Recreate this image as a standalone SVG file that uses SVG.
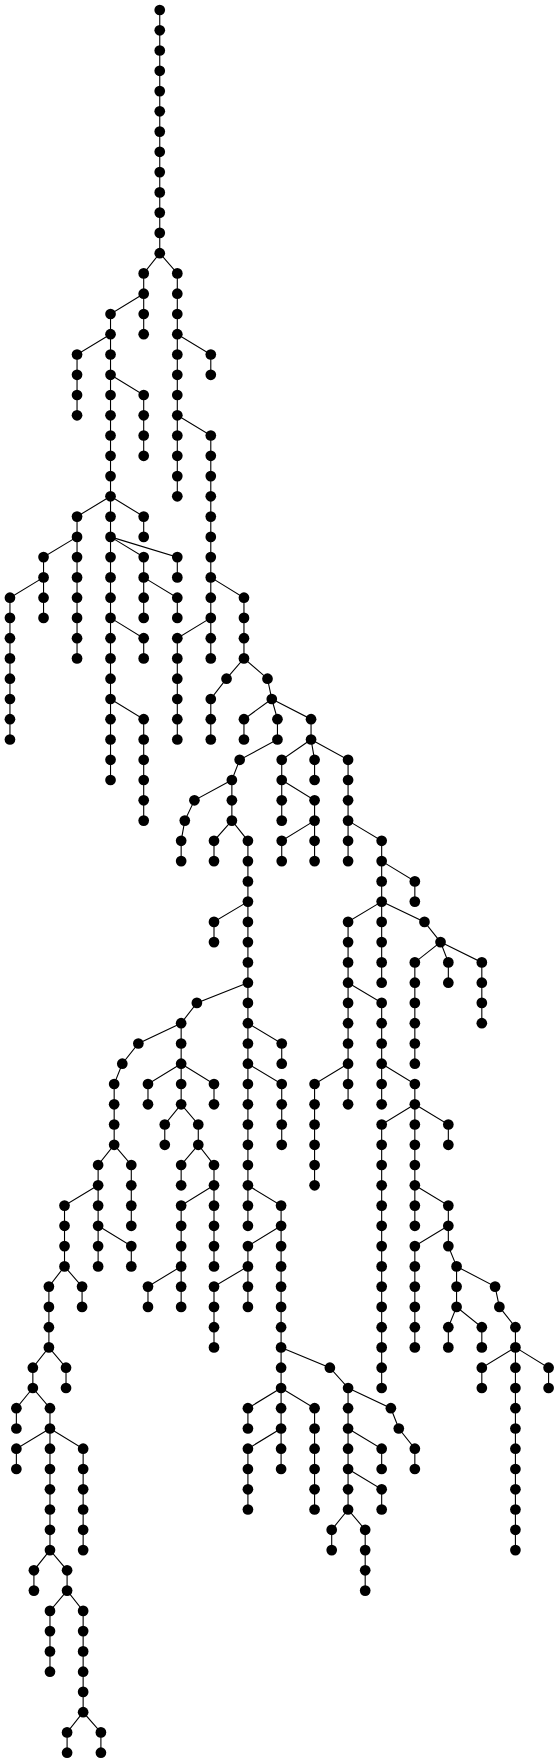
<svg xmlns="http://www.w3.org/2000/svg" xmlns:xlink="http://www.w3.org/1999/xlink" width="558" height="1763" viewBox="0 0 558 1763">
<style>
#edges path{fill:none;stroke:#000;stroke-width:1.1;vector-effect:non-scaling-stroke}
.nodes use{fill:#000}
</style>
<defs><ellipse id="d" cx="0" cy="0" rx="5" ry="5.35"/></defs>
<rect width="558" height="1763" fill="#fff"/>
<g id="edges" transform="matrix(1.07 0 0 1 0 0)">
<path d="M149.3,10V253.2"/>
<path d="M149.3,253.2L134.3,273.4V334.2"/>
<path d="M149.3,253.2L165.7,273.4V496.3"/>
<path d="M134.3,293.7L103.3,314V780"/>
<path d="M103.3,334.2L72,354.5V415.3"/>
<path d="M103.3,374.8L134.3,395V455.8"/>
<path d="M103.3,496.3L72,516.6V658.4"/>
<path d="M72,536.9L40.7,557.1V617.9"/>
<path d="M40.7,577.4L9.3,597.7V739.5"/>
<path d="M103.3,496.3L134.3,516.6V536.9"/>
<path d="M103.3,536.9L134.3,557.1V617.9"/>
<path d="M103.3,536.9L165.7,557.1V577.4"/>
<path d="M134.3,577.4L165.7,597.7V617.9"/>
<path d="M103.3,617.9L134.3,638.2V658.4"/>
<path d="M103.3,699L134.3,719.2V820.6"/>
<path d="M165.7,334.2L197,354.5V374.8"/>
<path d="M165.7,415.3L197,435.5V658.4"/>
<path d="M197,617.9L165.7,638.2V739.5"/>
<path d="M197,577.4L228,597.7V658.4L211.7,678.7L197,699V739.5"/>
<path d="M228,658.4L250,678.7L254,699L259.3,719.2V739.5L224,759.8L216.7,780V820.6L231.7,840.8V1225.8"/>
<path d="M254,699L228,719.2V739.5"/>
<path d="M254,699L290.7,719.2V739.5L294,759.8V780"/>
<path d="M216.7,780L181.7,800.3L172.7,820.6L169.3,840.8V861.1"/>
<path d="M216.7,820.6L200,840.8V861.1"/>
<path d="M231.7,901.6L200,921.9V942.1"/>
<path d="M231.7,982.7L184,1002.9L169.3,1023.2V1104.3L185.3,1124.5V1144.8L200,1165V1266.4"/>
<path d="M169.3,1023.2L129.3,1043.5L114.3,1063.7L106.7,1084V1144.8L91.7,1165V1266.4"/>
<path d="M106.7,1144.8L122.7,1165V1225.8"/>
<path d="M91.7,1225.8L122.7,1246.1V1266.4"/>
<path d="M91.7,1185.3L60.3,1205.6V1266.4L45.7,1286.6V1347.4L30.7,1367.7V1388L46.7,1408.2V1550.1L62.7,1570.3V1590.6L77.7,1610.9V1712.2L94.3,1732.4V1752.7"/>
<path d="M60.3,1266.4L76.7,1286.6V1306.9"/>
<path d="M45.7,1347.4L61.7,1367.7V1388"/>
<path d="M30.7,1388L15.3,1408.2V1428.5"/>
<path d="M46.7,1428.5L15.3,1448.7V1469"/>
<path d="M46.7,1428.5L77.7,1448.7V1550.1"/>
<path d="M46.7,1550.1L31.7,1570.3V1590.6"/>
<path d="M62.7,1590.6L46.7,1610.9V1671.7"/>
<path d="M77.7,1712.2L62.7,1732.4V1752.7"/>
<path d="M169.3,1063.7L138.3,1084V1104.3"/>
<path d="M169.3,1063.7L200,1084V1104.3"/>
<path d="M169.3,1104.3L154,1124.5V1144.8"/>
<path d="M185.3,1144.8L169.3,1165V1185.3"/>
<path d="M200,1185.3L169.3,1205.6V1306.9"/>
<path d="M169.3,1266.4L138.3,1286.6V1306.9"/>
<path d="M231.7,1023.2L263.3,1043.5V1063.7"/>
<path d="M231.7,1063.7L263.3,1084V1144.8"/>
<path d="M231.7,1185.3L262.7,1205.6V1469"/>
<path d="M262.7,1225.8L231.7,1246.1V1306.9"/>
<path d="M231.7,1266.4L200,1286.6V1347.4"/>
<path d="M262.7,1347.4L308.3,1367.7L325.3,1388V1509.5L341.3,1529.8V1590.6"/>
<path d="M262.7,1388L231.7,1408.2V1428.5"/>
<path d="M262.7,1388L294,1408.2V1509.5"/>
<path d="M262.7,1428.5L231.7,1448.7V1509.5"/>
<path d="M325.3,1388L365.3,1408.2L372.7,1428.5L387.7,1448.7V1469"/>
<path d="M325.3,1428.5L356.7,1448.7V1469"/>
<path d="M325.3,1469L356.7,1489.3V1509.5"/>
<path d="M325.3,1509.5L310,1529.8V1550.1"/>
<path d="M290.7,739.5L263.3,759.8V820.6"/>
<path d="M263.3,780L294,800.3V861.1"/>
<path d="M294,820.6L263.3,840.8V861.1"/>
<path d="M290.7,739.5L325.3,759.8V861.1"/>
<path d="M325.3,820.6L356.7,840.8V982.7"/>
<path d="M356.7,861.1L387.7,881.4V901.6"/>
<path d="M356.7,901.6L325.3,921.9V1104.3"/>
<path d="M325.3,982.7L356.7,1002.9V1104.3"/>
<path d="M325.3,1063.7L294,1084V1185.3"/>
<path d="M356.7,1063.7L387.7,1084V1225.8"/>
<path d="M387.7,1104.3L356.7,1124.5V1388"/>
<path d="M387.7,1104.3L419,1124.5V1144.8"/>
<path d="M387.7,1185.3L419,1205.6V1246.1L426.7,1266.4V1306.9L450.3,1327.2V1347.4"/>
<path d="M419,1225.8L387.7,1246.1V1347.4"/>
<path d="M426.7,1266.4L462.7,1286.6L466.7,1306.9L481.7,1327.2V1550.1"/>
<path d="M426.7,1306.9L419,1327.2V1347.4"/>
<path d="M481.7,1347.4L450.3,1367.7V1388"/>
<path d="M481.7,1347.4L512.7,1367.7V1388"/>
<path d="M356.7,901.6L396.7,921.9L411.7,942.1L419,962.4V982.7"/>
<path d="M411.7,942.1L387.7,962.4V1063.7"/>
<path d="M411.7,942.1L450.3,962.4V1023.2"/>
</g>
<g class="nodes" transform="matrix(1.07 0 0 1 0 0)">
<g id="n1"><use href="#d" x="149.3" y="10"/></g>
<g id="n2"><use href="#d" x="149.3" y="30.3"/></g>
<g id="n3"><use href="#d" x="149.3" y="50.5"/></g>
<g id="n4"><use href="#d" x="149.3" y="70.8"/></g>
<g id="n5"><use href="#d" x="149.3" y="91.1"/></g>
<g id="n6"><use href="#d" x="149.3" y="111.3"/></g>
<g id="n7"><use href="#d" x="149.3" y="131.6"/></g>
<g id="n8"><use href="#d" x="149.3" y="151.8"/></g>
<g id="n9"><use href="#d" x="149.3" y="172.1"/></g>
<g id="n10"><use href="#d" x="149.3" y="192.4"/></g>
<g id="n11"><use href="#d" x="149.3" y="212.6"/></g>
<g id="n12"><use href="#d" x="149.3" y="232.9"/></g>
<g id="n13"><use href="#d" x="149.3" y="253.2"/></g>
<g id="n14"><use href="#d" x="134.3" y="273.4"/></g>
<g id="n15"><use href="#d" x="134.3" y="293.7"/></g>
<g id="n16"><use href="#d" x="134.3" y="314"/></g>
<g id="n17"><use href="#d" x="134.3" y="334.2"/></g>
<g id="n18"><use href="#d" x="165.7" y="273.4"/></g>
<g id="n19"><use href="#d" x="165.7" y="293.7"/></g>
<g id="n20"><use href="#d" x="165.7" y="314"/></g>
<g id="n21"><use href="#d" x="165.7" y="334.2"/></g>
<g id="n22"><use href="#d" x="165.7" y="354.5"/></g>
<g id="n23"><use href="#d" x="165.7" y="374.8"/></g>
<g id="n24"><use href="#d" x="165.7" y="395"/></g>
<g id="n25"><use href="#d" x="165.7" y="415.3"/></g>
<g id="n26"><use href="#d" x="165.7" y="435.5"/></g>
<g id="n27"><use href="#d" x="165.7" y="455.8"/></g>
<g id="n28"><use href="#d" x="165.7" y="476.1"/></g>
<g id="n29"><use href="#d" x="165.7" y="496.3"/></g>
<g id="n30"><use href="#d" x="103.3" y="314"/></g>
<g id="n31"><use href="#d" x="103.3" y="334.2"/></g>
<g id="n32"><use href="#d" x="103.3" y="354.5"/></g>
<g id="n33"><use href="#d" x="103.3" y="374.8"/></g>
<g id="n34"><use href="#d" x="103.3" y="395"/></g>
<g id="n35"><use href="#d" x="103.3" y="415.3"/></g>
<g id="n36"><use href="#d" x="103.3" y="435.5"/></g>
<g id="n37"><use href="#d" x="103.3" y="455.8"/></g>
<g id="n38"><use href="#d" x="103.3" y="476.1"/></g>
<g id="n39"><use href="#d" x="103.3" y="496.3"/></g>
<g id="n40"><use href="#d" x="103.3" y="516.6"/></g>
<g id="n41"><use href="#d" x="103.3" y="536.9"/></g>
<g id="n42"><use href="#d" x="103.3" y="557.1"/></g>
<g id="n43"><use href="#d" x="103.3" y="577.4"/></g>
<g id="n44"><use href="#d" x="103.3" y="597.7"/></g>
<g id="n45"><use href="#d" x="103.3" y="617.9"/></g>
<g id="n46"><use href="#d" x="103.3" y="638.2"/></g>
<g id="n47"><use href="#d" x="103.3" y="658.4"/></g>
<g id="n48"><use href="#d" x="103.3" y="678.7"/></g>
<g id="n49"><use href="#d" x="103.3" y="699"/></g>
<g id="n50"><use href="#d" x="103.3" y="719.2"/></g>
<g id="n51"><use href="#d" x="103.3" y="739.5"/></g>
<g id="n52"><use href="#d" x="103.3" y="759.8"/></g>
<g id="n53"><use href="#d" x="103.3" y="780"/></g>
<g id="n54"><use href="#d" x="72" y="354.5"/></g>
<g id="n55"><use href="#d" x="72" y="374.8"/></g>
<g id="n56"><use href="#d" x="72" y="395"/></g>
<g id="n57"><use href="#d" x="72" y="415.3"/></g>
<g id="n58"><use href="#d" x="134.3" y="395"/></g>
<g id="n59"><use href="#d" x="134.3" y="415.3"/></g>
<g id="n60"><use href="#d" x="134.3" y="435.5"/></g>
<g id="n61"><use href="#d" x="134.3" y="455.8"/></g>
<g id="n62"><use href="#d" x="72" y="516.6"/></g>
<g id="n63"><use href="#d" x="72" y="536.9"/></g>
<g id="n64"><use href="#d" x="72" y="557.1"/></g>
<g id="n65"><use href="#d" x="72" y="577.4"/></g>
<g id="n66"><use href="#d" x="72" y="597.7"/></g>
<g id="n67"><use href="#d" x="72" y="617.9"/></g>
<g id="n68"><use href="#d" x="72" y="638.2"/></g>
<g id="n69"><use href="#d" x="72" y="658.4"/></g>
<g id="n70"><use href="#d" x="40.7" y="557.1"/></g>
<g id="n71"><use href="#d" x="40.7" y="577.4"/></g>
<g id="n72"><use href="#d" x="40.7" y="597.7"/></g>
<g id="n73"><use href="#d" x="40.7" y="617.9"/></g>
<g id="n74"><use href="#d" x="9.3" y="597.7"/></g>
<g id="n75"><use href="#d" x="9.3" y="617.9"/></g>
<g id="n76"><use href="#d" x="9.3" y="638.2"/></g>
<g id="n77"><use href="#d" x="9.3" y="658.4"/></g>
<g id="n78"><use href="#d" x="9.3" y="678.7"/></g>
<g id="n79"><use href="#d" x="9.3" y="699"/></g>
<g id="n80"><use href="#d" x="9.3" y="719.2"/></g>
<g id="n81"><use href="#d" x="9.3" y="739.5"/></g>
<g id="n82"><use href="#d" x="134.3" y="516.6"/></g>
<g id="n83"><use href="#d" x="134.3" y="536.9"/></g>
<g id="n84"><use href="#d" x="134.3" y="557.1"/></g>
<g id="n85"><use href="#d" x="134.3" y="577.4"/></g>
<g id="n86"><use href="#d" x="134.3" y="597.7"/></g>
<g id="n87"><use href="#d" x="134.3" y="617.9"/></g>
<g id="n88"><use href="#d" x="165.7" y="557.1"/></g>
<g id="n89"><use href="#d" x="165.7" y="577.4"/></g>
<g id="n90"><use href="#d" x="165.7" y="597.7"/></g>
<g id="n91"><use href="#d" x="165.7" y="617.9"/></g>
<g id="n92"><use href="#d" x="134.3" y="638.2"/></g>
<g id="n93"><use href="#d" x="134.3" y="658.4"/></g>
<g id="n94"><use href="#d" x="134.3" y="719.2"/></g>
<g id="n95"><use href="#d" x="134.3" y="739.5"/></g>
<g id="n96"><use href="#d" x="134.3" y="759.8"/></g>
<g id="n97"><use href="#d" x="134.3" y="780"/></g>
<g id="n98"><use href="#d" x="134.3" y="800.3"/></g>
<g id="n99"><use href="#d" x="134.3" y="820.6"/></g>
<g id="n100"><use href="#d" x="197" y="354.5"/></g>
<g id="n101"><use href="#d" x="197" y="374.8"/></g>
<g id="n102"><use href="#d" x="197" y="435.5"/></g>
<g id="n103"><use href="#d" x="197" y="455.8"/></g>
<g id="n104"><use href="#d" x="197" y="476.1"/></g>
<g id="n105"><use href="#d" x="197" y="496.3"/></g>
<g id="n106"><use href="#d" x="197" y="516.6"/></g>
<g id="n107"><use href="#d" x="197" y="536.9"/></g>
<g id="n108"><use href="#d" x="197" y="557.1"/></g>
<g id="n109"><use href="#d" x="197" y="577.4"/></g>
<g id="n110"><use href="#d" x="197" y="597.7"/></g>
<g id="n111"><use href="#d" x="197" y="617.9"/></g>
<g id="n112"><use href="#d" x="197" y="638.2"/></g>
<g id="n113"><use href="#d" x="197" y="658.4"/></g>
<g id="n114"><use href="#d" x="165.7" y="638.2"/></g>
<g id="n115"><use href="#d" x="165.7" y="658.4"/></g>
<g id="n116"><use href="#d" x="165.7" y="678.7"/></g>
<g id="n117"><use href="#d" x="165.7" y="699"/></g>
<g id="n118"><use href="#d" x="165.7" y="719.2"/></g>
<g id="n119"><use href="#d" x="165.7" y="739.5"/></g>
<g id="n120"><use href="#d" x="228" y="597.7"/></g>
<g id="n121"><use href="#d" x="228" y="617.9"/></g>
<g id="n122"><use href="#d" x="228" y="638.2"/></g>
<g id="n123"><use href="#d" x="228" y="658.4"/></g>
<g id="n124"><use href="#d" x="211.7" y="678.7"/></g>
<g id="n125"><use href="#d" x="197" y="699"/></g>
<g id="n126"><use href="#d" x="197" y="719.2"/></g>
<g id="n127"><use href="#d" x="197" y="739.5"/></g>
<g id="n128"><use href="#d" x="250" y="678.7"/></g>
<g id="n129"><use href="#d" x="254" y="699"/></g>
<g id="n130"><use href="#d" x="259.3" y="719.2"/></g>
<g id="n131"><use href="#d" x="259.3" y="739.5"/></g>
<g id="n132"><use href="#d" x="224" y="759.8"/></g>
<g id="n133"><use href="#d" x="216.7" y="780"/></g>
<g id="n134"><use href="#d" x="216.7" y="800.3"/></g>
<g id="n135"><use href="#d" x="216.7" y="820.6"/></g>
<g id="n136"><use href="#d" x="231.7" y="840.8"/></g>
<g id="n137"><use href="#d" x="231.7" y="861.1"/></g>
<g id="n138"><use href="#d" x="231.7" y="881.4"/></g>
<g id="n139"><use href="#d" x="231.7" y="901.6"/></g>
<g id="n140"><use href="#d" x="231.7" y="921.9"/></g>
<g id="n141"><use href="#d" x="231.7" y="942.1"/></g>
<g id="n142"><use href="#d" x="231.7" y="962.4"/></g>
<g id="n143"><use href="#d" x="231.7" y="982.7"/></g>
<g id="n144"><use href="#d" x="231.7" y="1002.9"/></g>
<g id="n145"><use href="#d" x="231.7" y="1023.2"/></g>
<g id="n146"><use href="#d" x="231.7" y="1043.5"/></g>
<g id="n147"><use href="#d" x="231.7" y="1063.7"/></g>
<g id="n148"><use href="#d" x="231.7" y="1084"/></g>
<g id="n149"><use href="#d" x="231.7" y="1104.3"/></g>
<g id="n150"><use href="#d" x="231.7" y="1124.5"/></g>
<g id="n151"><use href="#d" x="231.7" y="1144.8"/></g>
<g id="n152"><use href="#d" x="231.7" y="1165"/></g>
<g id="n153"><use href="#d" x="231.7" y="1185.3"/></g>
<g id="n154"><use href="#d" x="231.7" y="1205.6"/></g>
<g id="n155"><use href="#d" x="231.7" y="1225.8"/></g>
<g id="n156"><use href="#d" x="228" y="719.2"/></g>
<g id="n157"><use href="#d" x="228" y="739.5"/></g>
<g id="n158"><use href="#d" x="290.7" y="719.2"/></g>
<g id="n159"><use href="#d" x="290.7" y="739.5"/></g>
<g id="n160"><use href="#d" x="294" y="759.8"/></g>
<g id="n161"><use href="#d" x="294" y="780"/></g>
<g id="n162"><use href="#d" x="181.7" y="800.3"/></g>
<g id="n163"><use href="#d" x="172.7" y="820.6"/></g>
<g id="n164"><use href="#d" x="169.3" y="840.8"/></g>
<g id="n165"><use href="#d" x="169.3" y="861.1"/></g>
<g id="n166"><use href="#d" x="200" y="840.8"/></g>
<g id="n167"><use href="#d" x="200" y="861.1"/></g>
<g id="n168"><use href="#d" x="200" y="921.9"/></g>
<g id="n169"><use href="#d" x="200" y="942.1"/></g>
<g id="n170"><use href="#d" x="184" y="1002.9"/></g>
<g id="n171"><use href="#d" x="169.3" y="1023.2"/></g>
<g id="n172"><use href="#d" x="169.3" y="1043.5"/></g>
<g id="n173"><use href="#d" x="169.3" y="1063.7"/></g>
<g id="n174"><use href="#d" x="169.3" y="1084"/></g>
<g id="n175"><use href="#d" x="169.3" y="1104.3"/></g>
<g id="n176"><use href="#d" x="185.3" y="1124.5"/></g>
<g id="n177"><use href="#d" x="185.3" y="1144.8"/></g>
<g id="n178"><use href="#d" x="200" y="1165"/></g>
<g id="n179"><use href="#d" x="200" y="1185.3"/></g>
<g id="n180"><use href="#d" x="200" y="1205.6"/></g>
<g id="n181"><use href="#d" x="200" y="1225.8"/></g>
<g id="n182"><use href="#d" x="200" y="1246.1"/></g>
<g id="n183"><use href="#d" x="200" y="1266.4"/></g>
<g id="n184"><use href="#d" x="129.3" y="1043.5"/></g>
<g id="n185"><use href="#d" x="114.3" y="1063.7"/></g>
<g id="n186"><use href="#d" x="106.7" y="1084"/></g>
<g id="n187"><use href="#d" x="106.7" y="1104.3"/></g>
<g id="n188"><use href="#d" x="106.7" y="1124.5"/></g>
<g id="n189"><use href="#d" x="106.7" y="1144.8"/></g>
<g id="n190"><use href="#d" x="91.7" y="1165"/></g>
<g id="n191"><use href="#d" x="91.7" y="1185.3"/></g>
<g id="n192"><use href="#d" x="91.7" y="1205.6"/></g>
<g id="n193"><use href="#d" x="91.7" y="1225.8"/></g>
<g id="n194"><use href="#d" x="91.7" y="1246.1"/></g>
<g id="n195"><use href="#d" x="91.7" y="1266.4"/></g>
<g id="n196"><use href="#d" x="122.7" y="1165"/></g>
<g id="n197"><use href="#d" x="122.7" y="1185.3"/></g>
<g id="n198"><use href="#d" x="122.7" y="1205.6"/></g>
<g id="n199"><use href="#d" x="122.7" y="1225.8"/></g>
<g id="n200"><use href="#d" x="122.7" y="1246.1"/></g>
<g id="n201"><use href="#d" x="122.7" y="1266.4"/></g>
<g id="n202"><use href="#d" x="60.3" y="1205.6"/></g>
<g id="n203"><use href="#d" x="60.3" y="1225.8"/></g>
<g id="n204"><use href="#d" x="60.3" y="1246.1"/></g>
<g id="n205"><use href="#d" x="60.3" y="1266.4"/></g>
<g id="n206"><use href="#d" x="45.7" y="1286.6"/></g>
<g id="n207"><use href="#d" x="45.7" y="1306.9"/></g>
<g id="n208"><use href="#d" x="45.7" y="1327.2"/></g>
<g id="n209"><use href="#d" x="45.7" y="1347.4"/></g>
<g id="n210"><use href="#d" x="30.7" y="1367.7"/></g>
<g id="n211"><use href="#d" x="30.7" y="1388"/></g>
<g id="n212"><use href="#d" x="46.7" y="1408.2"/></g>
<g id="n213"><use href="#d" x="46.7" y="1428.5"/></g>
<g id="n214"><use href="#d" x="46.7" y="1448.7"/></g>
<g id="n215"><use href="#d" x="46.7" y="1469"/></g>
<g id="n216"><use href="#d" x="46.7" y="1489.3"/></g>
<g id="n217"><use href="#d" x="46.7" y="1509.5"/></g>
<g id="n218"><use href="#d" x="46.7" y="1529.8"/></g>
<g id="n219"><use href="#d" x="46.7" y="1550.1"/></g>
<g id="n220"><use href="#d" x="62.7" y="1570.3"/></g>
<g id="n221"><use href="#d" x="62.7" y="1590.6"/></g>
<g id="n222"><use href="#d" x="77.7" y="1610.9"/></g>
<g id="n223"><use href="#d" x="77.7" y="1631.1"/></g>
<g id="n224"><use href="#d" x="77.7" y="1651.4"/></g>
<g id="n225"><use href="#d" x="77.7" y="1671.7"/></g>
<g id="n226"><use href="#d" x="77.7" y="1691.9"/></g>
<g id="n227"><use href="#d" x="77.7" y="1712.2"/></g>
<g id="n228"><use href="#d" x="94.3" y="1732.4"/></g>
<g id="n229"><use href="#d" x="94.3" y="1752.7"/></g>
<g id="n230"><use href="#d" x="76.7" y="1286.6"/></g>
<g id="n231"><use href="#d" x="76.7" y="1306.9"/></g>
<g id="n232"><use href="#d" x="61.7" y="1367.7"/></g>
<g id="n233"><use href="#d" x="61.7" y="1388"/></g>
<g id="n234"><use href="#d" x="15.3" y="1408.2"/></g>
<g id="n235"><use href="#d" x="15.3" y="1428.5"/></g>
<g id="n236"><use href="#d" x="15.3" y="1448.7"/></g>
<g id="n237"><use href="#d" x="15.3" y="1469"/></g>
<g id="n238"><use href="#d" x="77.7" y="1448.7"/></g>
<g id="n239"><use href="#d" x="77.7" y="1469"/></g>
<g id="n240"><use href="#d" x="77.7" y="1489.3"/></g>
<g id="n241"><use href="#d" x="77.7" y="1509.5"/></g>
<g id="n242"><use href="#d" x="77.7" y="1529.8"/></g>
<g id="n243"><use href="#d" x="77.7" y="1550.1"/></g>
<g id="n244"><use href="#d" x="31.7" y="1570.3"/></g>
<g id="n245"><use href="#d" x="31.7" y="1590.6"/></g>
<g id="n246"><use href="#d" x="46.7" y="1610.9"/></g>
<g id="n247"><use href="#d" x="46.7" y="1631.1"/></g>
<g id="n248"><use href="#d" x="46.7" y="1651.4"/></g>
<g id="n249"><use href="#d" x="46.7" y="1671.7"/></g>
<g id="n250"><use href="#d" x="62.7" y="1732.4"/></g>
<g id="n251"><use href="#d" x="62.7" y="1752.7"/></g>
<g id="n252"><use href="#d" x="138.3" y="1084"/></g>
<g id="n253"><use href="#d" x="138.3" y="1104.3"/></g>
<g id="n254"><use href="#d" x="200" y="1084"/></g>
<g id="n255"><use href="#d" x="200" y="1104.3"/></g>
<g id="n256"><use href="#d" x="154" y="1124.5"/></g>
<g id="n257"><use href="#d" x="154" y="1144.8"/></g>
<g id="n258"><use href="#d" x="169.3" y="1165"/></g>
<g id="n259"><use href="#d" x="169.3" y="1185.3"/></g>
<g id="n260"><use href="#d" x="169.3" y="1205.6"/></g>
<g id="n261"><use href="#d" x="169.3" y="1225.8"/></g>
<g id="n262"><use href="#d" x="169.3" y="1246.1"/></g>
<g id="n263"><use href="#d" x="169.3" y="1266.4"/></g>
<g id="n264"><use href="#d" x="169.3" y="1286.6"/></g>
<g id="n265"><use href="#d" x="169.3" y="1306.9"/></g>
<g id="n266"><use href="#d" x="138.3" y="1286.6"/></g>
<g id="n267"><use href="#d" x="138.3" y="1306.9"/></g>
<g id="n268"><use href="#d" x="263.3" y="1043.5"/></g>
<g id="n269"><use href="#d" x="263.3" y="1063.7"/></g>
<g id="n270"><use href="#d" x="263.3" y="1084"/></g>
<g id="n271"><use href="#d" x="263.3" y="1104.3"/></g>
<g id="n272"><use href="#d" x="263.3" y="1124.5"/></g>
<g id="n273"><use href="#d" x="263.3" y="1144.8"/></g>
<g id="n274"><use href="#d" x="262.7" y="1205.6"/></g>
<g id="n275"><use href="#d" x="262.7" y="1225.8"/></g>
<g id="n276"><use href="#d" x="262.7" y="1246.1"/></g>
<g id="n277"><use href="#d" x="262.7" y="1266.4"/></g>
<g id="n278"><use href="#d" x="262.7" y="1286.6"/></g>
<g id="n279"><use href="#d" x="262.7" y="1306.9"/></g>
<g id="n280"><use href="#d" x="262.7" y="1327.2"/></g>
<g id="n281"><use href="#d" x="262.7" y="1347.4"/></g>
<g id="n282"><use href="#d" x="262.7" y="1367.7"/></g>
<g id="n283"><use href="#d" x="262.7" y="1388"/></g>
<g id="n284"><use href="#d" x="262.7" y="1408.2"/></g>
<g id="n285"><use href="#d" x="262.7" y="1428.5"/></g>
<g id="n286"><use href="#d" x="262.7" y="1448.7"/></g>
<g id="n287"><use href="#d" x="262.7" y="1469"/></g>
<g id="n288"><use href="#d" x="231.7" y="1246.1"/></g>
<g id="n289"><use href="#d" x="231.7" y="1266.4"/></g>
<g id="n290"><use href="#d" x="231.7" y="1286.6"/></g>
<g id="n291"><use href="#d" x="231.7" y="1306.9"/></g>
<g id="n292"><use href="#d" x="200" y="1286.6"/></g>
<g id="n293"><use href="#d" x="200" y="1306.9"/></g>
<g id="n294"><use href="#d" x="200" y="1327.2"/></g>
<g id="n295"><use href="#d" x="200" y="1347.4"/></g>
<g id="n296"><use href="#d" x="308.3" y="1367.7"/></g>
<g id="n297"><use href="#d" x="325.3" y="1388"/></g>
<g id="n298"><use href="#d" x="325.3" y="1408.2"/></g>
<g id="n299"><use href="#d" x="325.3" y="1428.5"/></g>
<g id="n300"><use href="#d" x="325.3" y="1448.7"/></g>
<g id="n301"><use href="#d" x="325.3" y="1469"/></g>
<g id="n302"><use href="#d" x="325.3" y="1489.3"/></g>
<g id="n303"><use href="#d" x="325.3" y="1509.5"/></g>
<g id="n304"><use href="#d" x="341.3" y="1529.8"/></g>
<g id="n305"><use href="#d" x="341.3" y="1550.1"/></g>
<g id="n306"><use href="#d" x="341.3" y="1570.3"/></g>
<g id="n307"><use href="#d" x="341.3" y="1590.6"/></g>
<g id="n308"><use href="#d" x="231.7" y="1408.2"/></g>
<g id="n309"><use href="#d" x="231.7" y="1428.5"/></g>
<g id="n310"><use href="#d" x="294" y="1408.2"/></g>
<g id="n311"><use href="#d" x="294" y="1428.5"/></g>
<g id="n312"><use href="#d" x="294" y="1448.7"/></g>
<g id="n313"><use href="#d" x="294" y="1469"/></g>
<g id="n314"><use href="#d" x="294" y="1489.3"/></g>
<g id="n315"><use href="#d" x="294" y="1509.5"/></g>
<g id="n316"><use href="#d" x="231.7" y="1448.7"/></g>
<g id="n317"><use href="#d" x="231.7" y="1469"/></g>
<g id="n318"><use href="#d" x="231.7" y="1489.3"/></g>
<g id="n319"><use href="#d" x="231.7" y="1509.5"/></g>
<g id="n320"><use href="#d" x="365.3" y="1408.2"/></g>
<g id="n321"><use href="#d" x="372.7" y="1428.5"/></g>
<g id="n322"><use href="#d" x="387.7" y="1448.7"/></g>
<g id="n323"><use href="#d" x="387.7" y="1469"/></g>
<g id="n324"><use href="#d" x="356.7" y="1448.7"/></g>
<g id="n325"><use href="#d" x="356.7" y="1469"/></g>
<g id="n326"><use href="#d" x="356.7" y="1489.3"/></g>
<g id="n327"><use href="#d" x="356.7" y="1509.5"/></g>
<g id="n328"><use href="#d" x="310" y="1529.8"/></g>
<g id="n329"><use href="#d" x="310" y="1550.1"/></g>
<g id="n330"><use href="#d" x="263.3" y="759.8"/></g>
<g id="n331"><use href="#d" x="263.3" y="780"/></g>
<g id="n332"><use href="#d" x="263.3" y="800.3"/></g>
<g id="n333"><use href="#d" x="263.3" y="820.6"/></g>
<g id="n334"><use href="#d" x="294" y="800.3"/></g>
<g id="n335"><use href="#d" x="294" y="820.6"/></g>
<g id="n336"><use href="#d" x="294" y="840.8"/></g>
<g id="n337"><use href="#d" x="294" y="861.1"/></g>
<g id="n338"><use href="#d" x="263.3" y="840.8"/></g>
<g id="n339"><use href="#d" x="263.3" y="861.1"/></g>
<g id="n340"><use href="#d" x="325.3" y="759.8"/></g>
<g id="n341"><use href="#d" x="325.3" y="780"/></g>
<g id="n342"><use href="#d" x="325.3" y="800.3"/></g>
<g id="n343"><use href="#d" x="325.3" y="820.6"/></g>
<g id="n344"><use href="#d" x="325.3" y="840.8"/></g>
<g id="n345"><use href="#d" x="325.3" y="861.1"/></g>
<g id="n346"><use href="#d" x="356.7" y="840.8"/></g>
<g id="n347"><use href="#d" x="356.7" y="861.1"/></g>
<g id="n348"><use href="#d" x="356.7" y="881.4"/></g>
<g id="n349"><use href="#d" x="356.7" y="901.6"/></g>
<g id="n350"><use href="#d" x="356.7" y="921.9"/></g>
<g id="n351"><use href="#d" x="356.7" y="942.1"/></g>
<g id="n352"><use href="#d" x="356.7" y="962.4"/></g>
<g id="n353"><use href="#d" x="356.7" y="982.7"/></g>
<g id="n354"><use href="#d" x="387.7" y="881.4"/></g>
<g id="n355"><use href="#d" x="387.7" y="901.6"/></g>
<g id="n356"><use href="#d" x="325.3" y="921.9"/></g>
<g id="n357"><use href="#d" x="325.3" y="942.1"/></g>
<g id="n358"><use href="#d" x="325.3" y="962.4"/></g>
<g id="n359"><use href="#d" x="325.3" y="982.7"/></g>
<g id="n360"><use href="#d" x="325.3" y="1002.9"/></g>
<g id="n361"><use href="#d" x="325.3" y="1023.2"/></g>
<g id="n362"><use href="#d" x="325.3" y="1043.5"/></g>
<g id="n363"><use href="#d" x="325.3" y="1063.7"/></g>
<g id="n364"><use href="#d" x="325.3" y="1084"/></g>
<g id="n365"><use href="#d" x="325.3" y="1104.3"/></g>
<g id="n366"><use href="#d" x="356.7" y="1002.9"/></g>
<g id="n367"><use href="#d" x="356.7" y="1023.2"/></g>
<g id="n368"><use href="#d" x="356.7" y="1043.5"/></g>
<g id="n369"><use href="#d" x="356.7" y="1063.7"/></g>
<g id="n370"><use href="#d" x="356.7" y="1084"/></g>
<g id="n371"><use href="#d" x="356.7" y="1104.3"/></g>
<g id="n372"><use href="#d" x="294" y="1084"/></g>
<g id="n373"><use href="#d" x="294" y="1104.3"/></g>
<g id="n374"><use href="#d" x="294" y="1124.5"/></g>
<g id="n375"><use href="#d" x="294" y="1144.8"/></g>
<g id="n376"><use href="#d" x="294" y="1165"/></g>
<g id="n377"><use href="#d" x="294" y="1185.3"/></g>
<g id="n378"><use href="#d" x="387.7" y="1084"/></g>
<g id="n379"><use href="#d" x="387.7" y="1104.3"/></g>
<g id="n380"><use href="#d" x="387.7" y="1124.5"/></g>
<g id="n381"><use href="#d" x="387.7" y="1144.8"/></g>
<g id="n382"><use href="#d" x="387.7" y="1165"/></g>
<g id="n383"><use href="#d" x="387.7" y="1185.3"/></g>
<g id="n384"><use href="#d" x="387.7" y="1205.6"/></g>
<g id="n385"><use href="#d" x="387.7" y="1225.8"/></g>
<g id="n386"><use href="#d" x="356.7" y="1124.5"/></g>
<g id="n387"><use href="#d" x="356.7" y="1144.8"/></g>
<g id="n388"><use href="#d" x="356.7" y="1165"/></g>
<g id="n389"><use href="#d" x="356.7" y="1185.3"/></g>
<g id="n390"><use href="#d" x="356.7" y="1205.6"/></g>
<g id="n391"><use href="#d" x="356.7" y="1225.8"/></g>
<g id="n392"><use href="#d" x="356.7" y="1246.1"/></g>
<g id="n393"><use href="#d" x="356.7" y="1266.4"/></g>
<g id="n394"><use href="#d" x="356.7" y="1286.6"/></g>
<g id="n395"><use href="#d" x="356.7" y="1306.9"/></g>
<g id="n396"><use href="#d" x="356.7" y="1327.2"/></g>
<g id="n397"><use href="#d" x="356.7" y="1347.4"/></g>
<g id="n398"><use href="#d" x="356.7" y="1367.7"/></g>
<g id="n399"><use href="#d" x="356.7" y="1388"/></g>
<g id="n400"><use href="#d" x="419" y="1124.5"/></g>
<g id="n401"><use href="#d" x="419" y="1144.8"/></g>
<g id="n402"><use href="#d" x="419" y="1205.6"/></g>
<g id="n403"><use href="#d" x="419" y="1225.8"/></g>
<g id="n404"><use href="#d" x="419" y="1246.1"/></g>
<g id="n405"><use href="#d" x="426.7" y="1266.4"/></g>
<g id="n406"><use href="#d" x="426.7" y="1286.6"/></g>
<g id="n407"><use href="#d" x="426.7" y="1306.9"/></g>
<g id="n408"><use href="#d" x="450.3" y="1327.2"/></g>
<g id="n409"><use href="#d" x="450.3" y="1347.4"/></g>
<g id="n410"><use href="#d" x="387.7" y="1246.1"/></g>
<g id="n411"><use href="#d" x="387.7" y="1266.4"/></g>
<g id="n412"><use href="#d" x="387.7" y="1286.6"/></g>
<g id="n413"><use href="#d" x="387.7" y="1306.9"/></g>
<g id="n414"><use href="#d" x="387.7" y="1327.2"/></g>
<g id="n415"><use href="#d" x="387.7" y="1347.4"/></g>
<g id="n416"><use href="#d" x="462.7" y="1286.6"/></g>
<g id="n417"><use href="#d" x="466.7" y="1306.9"/></g>
<g id="n418"><use href="#d" x="481.7" y="1327.2"/></g>
<g id="n419"><use href="#d" x="481.7" y="1347.4"/></g>
<g id="n420"><use href="#d" x="481.7" y="1367.7"/></g>
<g id="n421"><use href="#d" x="481.7" y="1388"/></g>
<g id="n422"><use href="#d" x="481.7" y="1408.2"/></g>
<g id="n423"><use href="#d" x="481.7" y="1428.5"/></g>
<g id="n424"><use href="#d" x="481.7" y="1448.7"/></g>
<g id="n425"><use href="#d" x="481.7" y="1469"/></g>
<g id="n426"><use href="#d" x="481.7" y="1489.3"/></g>
<g id="n427"><use href="#d" x="481.7" y="1509.5"/></g>
<g id="n428"><use href="#d" x="481.7" y="1529.8"/></g>
<g id="n429"><use href="#d" x="481.7" y="1550.1"/></g>
<g id="n430"><use href="#d" x="419" y="1327.2"/></g>
<g id="n431"><use href="#d" x="419" y="1347.4"/></g>
<g id="n432"><use href="#d" x="450.3" y="1367.7"/></g>
<g id="n433"><use href="#d" x="450.3" y="1388"/></g>
<g id="n434"><use href="#d" x="512.7" y="1367.7"/></g>
<g id="n435"><use href="#d" x="512.7" y="1388"/></g>
<g id="n436"><use href="#d" x="396.7" y="921.9"/></g>
<g id="n437"><use href="#d" x="411.7" y="942.1"/></g>
<g id="n438"><use href="#d" x="419" y="962.4"/></g>
<g id="n439"><use href="#d" x="419" y="982.7"/></g>
<g id="n440"><use href="#d" x="387.7" y="962.4"/></g>
<g id="n441"><use href="#d" x="387.7" y="982.7"/></g>
<g id="n442"><use href="#d" x="387.7" y="1002.9"/></g>
<g id="n443"><use href="#d" x="387.7" y="1023.2"/></g>
<g id="n444"><use href="#d" x="387.7" y="1043.5"/></g>
<g id="n445"><use href="#d" x="387.7" y="1063.7"/></g>
<g id="n446"><use href="#d" x="450.3" y="962.4"/></g>
<g id="n447"><use href="#d" x="450.3" y="982.7"/></g>
<g id="n448"><use href="#d" x="450.3" y="1002.9"/></g>
<g id="n449"><use href="#d" x="450.3" y="1023.2"/></g>
</g>
</svg>
